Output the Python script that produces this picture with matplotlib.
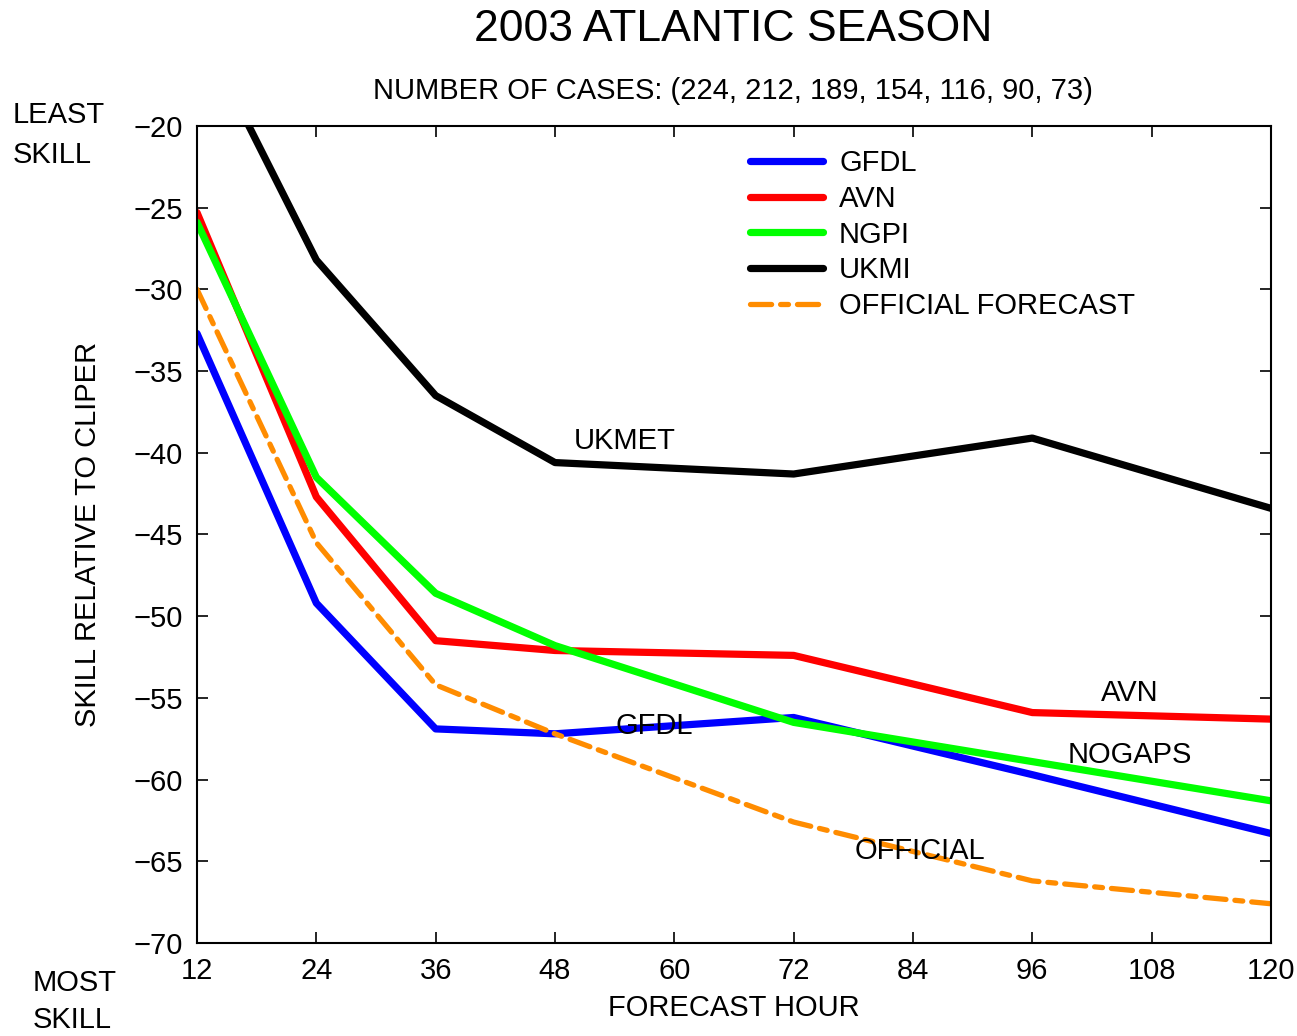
import numpy as np
import matplotlib
matplotlib.use("Agg")
import matplotlib.pyplot as plt

plt.rcParams['font.family'] = ['Liberation Sans', 'DejaVu Sans']

# forecast hours with verifying cases
hours = [12, 24, 36, 48, 72, 96, 120]

# skill relative to CLIPER (%)
gfdl = [-32.7, -49.2, -56.9, -57.2, -56.2, -59.7, -63.3]
avn = [-25.3, -42.7, -51.5, -52.1, -52.4, -55.9, -56.3]
ngpi = [-25.9, -41.5, -48.6, -51.8, -56.5, -58.9, -61.3]
ukmi = [-13.7, -28.2, -36.5, -40.6, -41.3, -39.1, -43.4]
official = [-30.0, -45.5, -54.2, -57.2, -62.6, -66.2, -67.6]

xticks = [12, 24, 36, 48, 60, 72, 84, 96, 108, 120]
yticks = [-70, -65, -60, -55, -50, -45, -40, -35, -30, -25, -20]

fs = 21

fig = plt.figure(figsize=(12.97, 10.36), dpi=100)
ax = fig.add_axes([0.1519, 0.0898, 0.828, 0.7886])

ax.plot(hours, gfdl, color='#0000ff', lw=5.2, label='GFDL', solid_capstyle='round')
ax.plot(hours, avn, color='#ff0000', lw=5.2, label='AVN', solid_capstyle='round')
ax.plot(hours, ngpi, color='#00ff00', lw=5.2, label='NGPI', solid_capstyle='round')
ax.plot(hours, ukmi, color='black', lw=5.2, label='UKMI', solid_capstyle='round')
ax.plot(hours, official, color='#ff8c00', lw=3.8, label='OFFICIAL FORECAST',
        dashes=(4, 1.7, 1.5, 1.7), dash_capstyle='round')

ax.set_xlim(12, 120)
ax.set_ylim(-70, -20)
ax.set_xticks(xticks)
ax.set_yticks(yticks)
ax.tick_params(direction='in', length=8, width=1.2, top=True, right=True,
               labelsize=fs, pad=10)
for s in ax.spines.values():
    s.set_linewidth(1.5)

# labels on the curves
ax.text(55, -39.3, 'UKMET', fontsize=fs, ha='center', va='center')
ax.text(58, -56.7, 'GFDL', fontsize=fs, ha='center', va='center')
ax.text(105.8, -54.7, 'AVN', fontsize=fs, ha='center', va='center')
ax.text(105.8, -58.5, 'NOGAPS', fontsize=fs, ha='center', va='center')
ax.text(84.7, -64.4, 'OFFICIAL', fontsize=fs, ha='center', va='center')

ax.legend(loc='upper left', bbox_to_anchor=(0.515, 0.972), frameon=False,
          fontsize=fs, handlelength=2.5, handletextpad=0.55, labelspacing=0.27,
          borderaxespad=0, borderpad=0)

fig.text(0.565, 0.972, '2003 ATLANTIC SEASON', fontsize=32, ha='center', va='center')
fig.text(0.565, 0.912, 'NUMBER OF CASES: (224, 212, 189, 154, 116, 90, 73)',
         fontsize=fs, ha='center', va='center')
fig.text(0.566, 0.027, 'FORECAST HOUR', fontsize=fs, ha='center', va='center')
fig.text(0.068, 0.484, 'SKILL RELATIVE TO CLIPER', fontsize=fs, ha='center',
         va='center', rotation=90)
fig.text(0.010, 0.889, 'LEAST', fontsize=fs, ha='left', va='center')
fig.text(0.010, 0.850, 'SKILL', fontsize=fs, ha='left', va='center')
fig.text(0.025, 0.051, 'MOST', fontsize=fs, ha='left', va='center')
fig.text(0.025, 0.015, 'SKILL', fontsize=fs, ha='left', va='center')

fig.savefig('out.png', dpi=100)
